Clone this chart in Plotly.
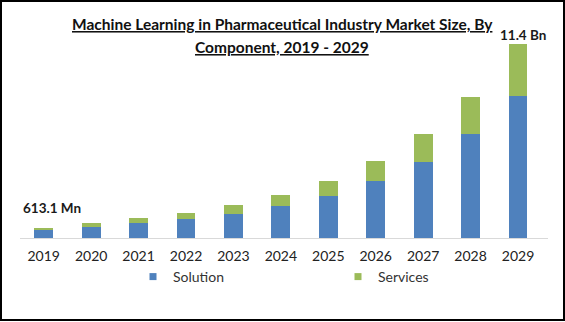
import plotly.graph_objects as go

# Market size by component, USD billions
years = ["2019", "2020", "2021", "2022", "2023", "2024", "2025", "2026", "2027", "2028", "2029"]
solution = [0.4931, 0.62, 0.86, 1.13, 1.43, 1.90, 2.48, 3.36, 4.48, 6.12, 8.37]
services = [0.12, 0.24, 0.29, 0.36, 0.52, 0.64, 0.88, 1.17, 1.64, 2.19, 3.03]
series_names = ["Solution", "Services"]
first_label = "613.1 Mn"
last_label = "11.4 Bn"

totals = [a + b for a, b in zip(solution, services)]

W, H = 565, 322
ML, MR, MT, MB = 20, 17, 40, 84
BLUE = "#4F81BD"
GREEN = "#9BBB59"
FONT = "Lato"

plot_h = H - MT - MB
pw = W - ML - MR
px_per_unit = (238 - 44) / totals[-1]
ymax = plot_h / px_per_unit


def to_py(pix):
    """Pixel row from the top of the figure -> paper y."""
    return (H - MB - pix) / plot_h


def to_px(pix):
    """Pixel column from the left of the figure -> paper x."""
    return (pix - ML) / pw


fig = go.Figure()
for name, vals, color in zip(series_names, [solution, services], [BLUE, GREEN]):
    fig.add_bar(x=years, y=vals, name=name, marker_color=color, marker_line_width=0,
                showlegend=False, legendgroup=name)

# Legend entries with small square keys
for i, (name, color) in enumerate(zip(series_names, [BLUE, GREEN])):
    fig.add_scatter(x=[None], y=[None], mode="markers", name=name, legendgroup=name,
                    marker=dict(symbol="square", size=7, color=color),
                    legendwidth=160 if i == 0 else None)

# Value labels for the first and last year (category index positions)
fig.add_annotation(x=0, y=totals[0], text=f"<b>{first_label}</b>", showarrow=False,
                   xanchor="center", yanchor="bottom", xshift=8, yshift=10,
                   font=dict(family=FONT, size=13.5, color="#1a1a1a"))
fig.add_annotation(x=len(years) - 1, y=totals[-1], text=f"<b>{last_label}</b>", showarrow=False,
                   xanchor="center", yanchor="bottom", xshift=5, yshift=-1,
                   font=dict(family=FONT, size=13.5, color="#1a1a1a"))

# Two-line underlined title
title_lines = ["Machine Learning in Pharmaceutical Industry Market Size, By",
               "Component, 2019 - 2029"]
for row, line in zip([24, 47], title_lines):
    fig.add_annotation(xref="paper", yref="paper", x=to_px(282), y=to_py(row),
                       text=f"<b><u>{line}</u></b>", showarrow=False,
                       xanchor="center", yanchor="middle",
                       font=dict(family=FONT, size=15.5, color="#111111"))

# Outer frame around the whole chart
fig.add_shape(type="rect", xref="paper", yref="paper",
              x0=to_px(1), x1=to_px(564), y0=to_py(320), y1=to_py(1),
              line=dict(color="black", width=2), fillcolor="rgba(0,0,0,0)", layer="above")

fig.update_layout(
    width=W, height=H,
    margin=dict(l=ML, r=MR, t=MT, b=MB, autoexpand=False),
    paper_bgcolor="white", plot_bgcolor="white",
    barmode="stack", bargap=0.6,
    font=dict(family=FONT, size=14, color="#333333"),
    showlegend=True,
    legend=dict(orientation="h", x=to_px(133), xanchor="left", y=to_py(261), yanchor="top",
                bgcolor="rgba(0,0,0,0)", itemwidth=30,
                font=dict(family=FONT, size=14, color="#333333"), traceorder="normal"),
    xaxis=dict(type="category", showline=True, linecolor="#D9D9D9", linewidth=1, showgrid=False,
               ticks="", ticklabelstandoff=5,
               tickfont=dict(family=FONT, size=14, color="#222222"), fixedrange=True),
    yaxis=dict(range=[0, ymax], visible=False, showgrid=False, fixedrange=True),
)

fig.write_html("out.html")
